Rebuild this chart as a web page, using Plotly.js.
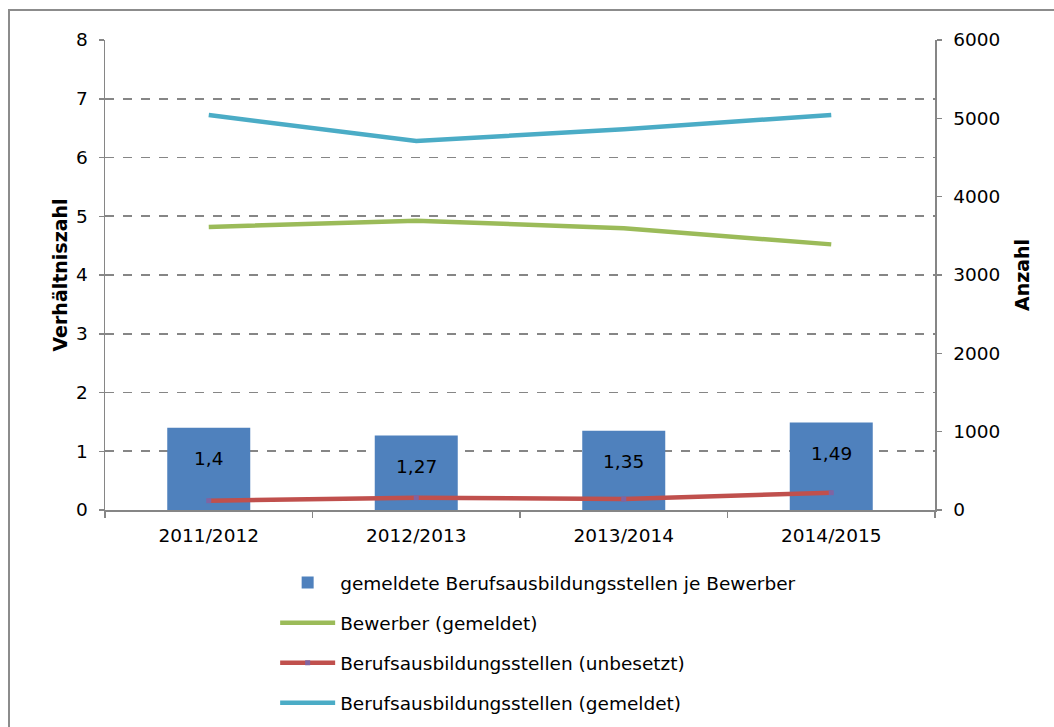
<!DOCTYPE html>
<html>
<head>
<meta charset="utf-8">
<script src="https://cdn.plot.ly/plotly-3.0.1.min.js"></script>
<style>
  html, body { margin: 0; padding: 0; overflow: hidden; background: #fff; }
  #frame { position: absolute; left: 8px; top: 9px; width: 1100px; height: 800px; border: 2px solid #8c8c8c; box-sizing: border-box; }
  #chart { position: absolute; left: 0; top: 0; width: 1054px; height: 727px; }
</style>
</head>
<body>
<div id="frame"></div>
<div id="chart"></div>
<script>
// Data
const categories = ["2011/2012", "2012/2013", "2013/2014", "2014/2015"];
const stellenJeBewerber = [1.40, 1.27, 1.35, 1.49];       // left axis (Verhältniszahl)
const bewerberGemeldet = [3613, 3694, 3596, 3391];        // right axis (Anzahl)
const stellenUnbesetzt = [119, 157, 140, 221];            // right axis (Anzahl)
const stellenGemeldet = [5043, 4710, 4860, 5043];         // right axis (Anzahl)
const seriesNames = [
  "gemeldete Berufsausbildungsstellen je Bewerber",
  "Bewerber (gemeldet)",
  "Berufsausbildungsstellen (unbesetzt)",
  "Berufsausbildungsstellen (gemeldet)"
];
const leftTitle = "Verhältniszahl";
const rightTitle = "Anzahl";

const FONT = "DejaVu Sans, Liberation Sans, Arial, sans-serif";
const GRAY = "#868686";
const FS = 18.5;

const traces = [
  {
    type: "bar", x: categories, y: stellenJeBewerber, name: seriesNames[0],
    marker: { color: "#4F81BD" }, legendgroup: "g1", yaxis: "y", hoverinfo: "x+y"
  },
  {
    type: "scatter", mode: "lines", x: categories, y: bewerberGemeldet, name: seriesNames[1],
    line: { color: "#9BBB59", width: 4.5 }, legendgroup: "g2", yaxis: "y2"
  },
  {
    type: "scatter", mode: "lines+markers", x: categories, y: stellenUnbesetzt, name: seriesNames[2],
    line: { color: "#C0504D", width: 4.5 }, marker: { symbol: "square", size: 5, color: "#8064A2" },
    legendgroup: "g3", yaxis: "y2"
  },
  {
    type: "scatter", mode: "lines", x: categories, y: stellenGemeldet, name: seriesNames[3],
    line: { color: "#4BACC6", width: 4.5 }, legendgroup: "g4", yaxis: "y2"
  }
];

const annotations = categories.map((c, i) => ({
  x: c, y: stellenJeBewerber[i], xref: "x", yref: "y",
  text: String(stellenJeBewerber[i]).replace(".", ","),
  showarrow: false, yanchor: "middle", yshift: -31,
  font: { family: FONT, size: FS, color: "#000" }
}));

const layout = {
  width: 1054, height: 727,
  margin: { l: 105, r: 119, t: 40, b: 217, autoexpand: false },
  paper_bgcolor: "rgba(0,0,0,0)", plot_bgcolor: "rgba(0,0,0,0)",
  font: { family: FONT, size: FS, color: "#000" },
  showlegend: true,
  bargap: 0.6,
  xaxis: {
    type: "category", showline: true, linecolor: GRAY, linewidth: 1.5,
    ticks: "outside", tickson: "boundaries", ticklen: 6, tickcolor: GRAY, tickwidth: 1.5,
    showgrid: false, zeroline: false, ticklabelstandoff: 8,
    tickfont: { family: FONT, size: FS, color: "#000" }
  },
  yaxis: {
    range: [0, 8], dtick: 1, showline: true, linecolor: GRAY, linewidth: 1.5,
    ticks: "outside", ticklen: 5, tickcolor: GRAY, tickwidth: 1.5,
    showgrid: true, gridcolor: GRAY, gridwidth: 1.7, griddash: "dash", zeroline: false,
    ticklabelstandoff: 7,
    tickfont: { family: FONT, size: FS, color: "#000" },
    title: { text: leftTitle, font: { family: FONT, size: 19, color: "#000", weight: "bold" }, standoff: 3 }
  },
  yaxis2: {
    range: [0, 6000], dtick: 1000, overlaying: "y", side: "right",
    showline: true, linecolor: GRAY, linewidth: 1.5,
    ticks: "outside", ticklen: 5, tickcolor: GRAY, tickwidth: 1.5,
    showgrid: false, zeroline: false, ticklabelstandoff: 8,
    tickfont: { family: FONT, size: FS, color: "#000" },
    title: { text: rightTitle, font: { family: FONT, size: 19, color: "#000", weight: "bold" }, standoff: 16 }
  },
  legend: {
    x: 0.205, xanchor: "left", y: -0.115, yanchor: "top",
    traceorder: "grouped", tracegroupgap: 13, itemwidth: 55,
    bgcolor: "rgba(0,0,0,0)", font: { family: FONT, size: FS, color: "#000" }
  },
  annotations: annotations
};

Plotly.newPlot("chart", traces, layout, { displayModeBar: false, staticPlot: true });
</script>
</body>
</html>
